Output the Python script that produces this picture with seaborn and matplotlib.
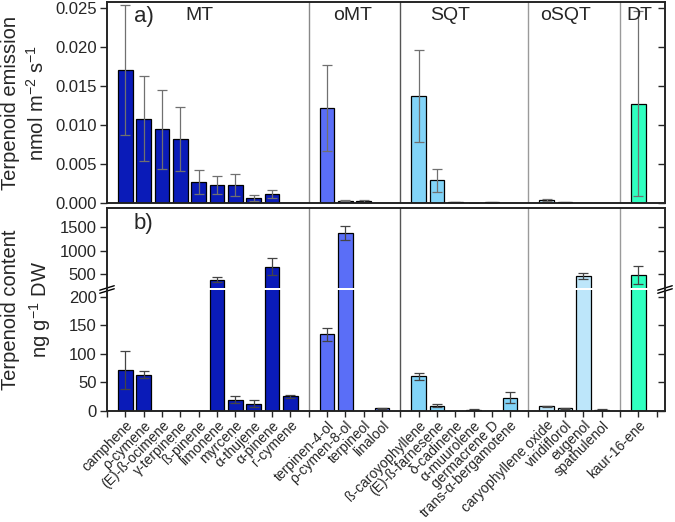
import numpy as np
import pandas as pd
import matplotlib
matplotlib.use("Agg")
import matplotlib.pyplot as plt
from matplotlib.patches import Rectangle
import seaborn as sns

# compounds, grouped by terpenoid class
compounds = ["camphene", "ρ-cymene", "(E)-ß-ocimene", "γ-terpinene", "ß-pinene",
             "limonene", "myrcene", "α-thujene", "α-pinene", "r-cymene",
             "terpinen-4-ol", "ρ-cymen-8-ol", "terpineol", "linalool",
             "ß-caroyophyllene", "(E)-ß-farnesene", "δ-cadinene", "α-muurolene",
             "germacrene D", "trans-α-bergamotene",
             "caryophyllene oxide", "viridiflorol", "eugenol", "spathulenol",
             "kaur-16-ene"]
group_names = ["MT", "oMT", "SQT", "oSQT", "DT"]
group_sizes = [10, 4, 6, 4, 1]

# a) emission, nmol m-2 s-1
emission = [0.0170, 0.0108, 0.0094, 0.0082, 0.0027, 0.0023, 0.0023, 0.0006, 0.0012, 0.0,
            0.0121, 0.0003, 0.00025, 0.0,
            0.0137, 0.0029, 0.00008, 0.00005, 0.0001, 0.0,
            0.00035, 0.0001, 0.0, 0.0,
            0.0127]
emission_err = [0.0083, 0.0054, 0.0050, 0.0041, 0.0015, 0.0011, 0.0014, 0.0004, 0.0005, 0.0,
                0.0055, 0.0001, 0.0001, 0.0,
                0.0059, 0.0015, 0.0, 0.0, 0.00005, 0.0,
                0.0001, 0.00005, 0.0, 0.0,
                0.0118]

# b) content, ng g-1 DW
content = [71, 63, 0, 0, 0, 375, 19, 12, 655, 25,
           134, 1375, 0, 4,
           60, 9, 0, 2, 0, 23,
           8, 4, 455, 2,
           475]
content_err = [33, 6, 0, 0, 0, 50, 6, 6, 185, 2.5,
               11, 140, 0, 1,
               6, 2, 0, 0.5, 0, 9,
               1, 1, 55, 0.5,
               185]

palette = {"MT": "#0A1BB8", "oMT": "#5A6EF7", "SQT": "#82D4F8",
           "oSQT": "#BDE6FA", "DT": "#30FFC0"}
sep_colors = ["#888888", "#555555", "#9a9a9a", "#9a9a9a"]

# x positions: one empty slot between groups
groups, pos, seps = [], [], []
x = 1
for g, n in zip(group_names, group_sizes):
    groups += [g] * n
    pos += list(range(x, x + n))
    x += n
    seps.append(x)
    x += 1
nslots = seps[-1]
seps = seps[:-1]

df = pd.DataFrame({"pos": pos, "compound": compounds, "group": groups,
                   "emission": emission, "emission_err": emission_err,
                   "content": content, "content_err": content_err})

sns.set_style("ticks")
plt.rcParams["font.family"] = ["Liberation Sans", "DejaVu Sans"]
plt.rcParams["mathtext.default"] = "regular"
plt.rcParams["axes.linewidth"] = 1.1

fig = plt.figure(figsize=(6.75, 5.22), dpi=100)
ax_a = fig.add_axes([0.1585, 0.6111, 0.8267, 0.385])
ax_b = fig.add_axes([0.1585, 0.2132, 0.8267, 0.3883])


def broken(v):
    v = np.asarray(v, float)
    return np.where(v <= 210, v * 0.57, 123.1 + (v - 210) * 0.0467)


def unbroken(p):
    p = np.asarray(p, float)
    return np.where(p <= 119.7, p / 0.57,
                    np.where(p >= 123.1, 210 + (p - 123.1) / 0.0467, 210.0))


for ax, col in [(ax_a, "emission"), (ax_b, "content")]:
    sns.barplot(data=df, x="pos", y=col, hue="group", palette=palette,
                native_scale=True, dodge=False, errorbar=None, width=0.8,
                saturation=1, edgecolor="black", linewidth=0.9, legend=False,
                ax=ax)
    ax.set_xlim(0, nslots + 0.45)
    for s, c in zip(seps, sep_colors):
        ax.axvline(s, color=c, lw=1.0, zorder=2.4)

ax_b.set_yscale("function", functions=(broken, unbroken))

# error bars
ok = df[df["emission"] > 0]
ax_a.errorbar(ok["pos"], ok["emission"], yerr=ok["emission_err"], fmt="none",
              ecolor="#707070", elinewidth=0.9, capsize=3.5, capthick=0.9)
ok = df[df["content"] > 0]
ax_b.errorbar(ok["pos"], ok["content"], yerr=ok["content_err"], fmt="none",
              ecolor="#444444", elinewidth=0.9, capsize=3.5, capthick=0.9)

aticks = [0, 0.005, 0.010, 0.015, 0.020, 0.025]
ax_a.set_ylim(0, 0.0257)
ax_a.set_yticks(aticks)
ax_a.set_yticklabels([f"{t:.3f}" for t in aticks])
ax_a.set_xticks([])
ax_a.set_xlabel("")
ax_a.set_ylabel("Terpenoid emission\nnmol m$^{-2}$ s$^{-1}$", fontsize=14.5,
                linespacing=1.35, labelpad=5)

btop = 1910
ax_b.set_ylim(0, btop)
bticks = [0, 50, 100, 150, 200, 500, 1000, 1500]
ax_b.set_yticks(bticks)
ax_b.set_yticklabels([str(t) for t in bticks])
ax_b.set_xticks(range(0, nslots + 1))
labels = [""] * (nslots + 1)
for p, c in zip(pos, compounds):
    labels[p] = c
ax_b.set_xticklabels(labels, rotation=45, ha="right", rotation_mode="anchor",
                     fontsize=10)
ax_b.set_xlabel("")
ax_b.set_ylabel("Terpenoid content\nng g$^{-1}$ DW", fontsize=14.5,
                linespacing=1.35, labelpad=5)

for ax in (ax_a, ax_b):
    ax.tick_params(axis="y", labelsize=12, length=5, width=1,
                   direction="out", pad=2.5)
    ax.tick_params(axis="x", length=4, width=1, direction="out", pad=1.5)
    for sp in ax.spines.values():
        sp.set_visible(True)
        sp.set_color("black")

# mirrored ticks on the right, pointing in
for ax, ticks in [(ax_a, aticks), (ax_b, bticks)]:
    tw = ax.twinx()
    if ax is ax_b:
        tw.set_yscale("function", functions=(broken, unbroken))
    tw.set_ylim(ax.get_ylim())
    tw.set_yticks(ticks)
    tw.tick_params(axis="y", direction="in", length=5, width=1, labelright=False)
    tw.grid(False)

# axis break on panel b
f_lo = float(broken(210)) / float(broken(btop))
f_hi = 123.1 / float(broken(btop))
ax_b.add_patch(Rectangle((0, f_lo + 0.002), 1, f_hi - f_lo - 0.003,
                         transform=ax_b.transAxes, facecolor="white",
                         edgecolor="none", zorder=2.2))
fm = (f_lo + f_hi) / 2
for xe in (0, 1):
    for dy in (-0.009, 0.006):
        ax_b.plot([xe - 0.013, xe + 0.013], [fm + dy - 0.011, fm + dy + 0.011],
                  transform=ax_b.transAxes, color="black", lw=1.0,
                  clip_on=False, zorder=5)

# class labels
label_x = [5.03, 13.4, 18.7, 25.0, 29.07]
for g, lx in zip(group_names, label_x):
    ax_a.text(lx, 0.935, g, transform=ax_a.get_xaxis_transform(),
              ha="center", va="center", fontsize=14)
ax_a.text(0.048, 0.93, "a)", transform=ax_a.transAxes, ha="left",
          va="center", fontsize=16)
ax_b.text(0.048, 0.925, "b)", transform=ax_b.transAxes, ha="left",
          va="center", fontsize=16)

fig.savefig("out.png", dpi=100)
